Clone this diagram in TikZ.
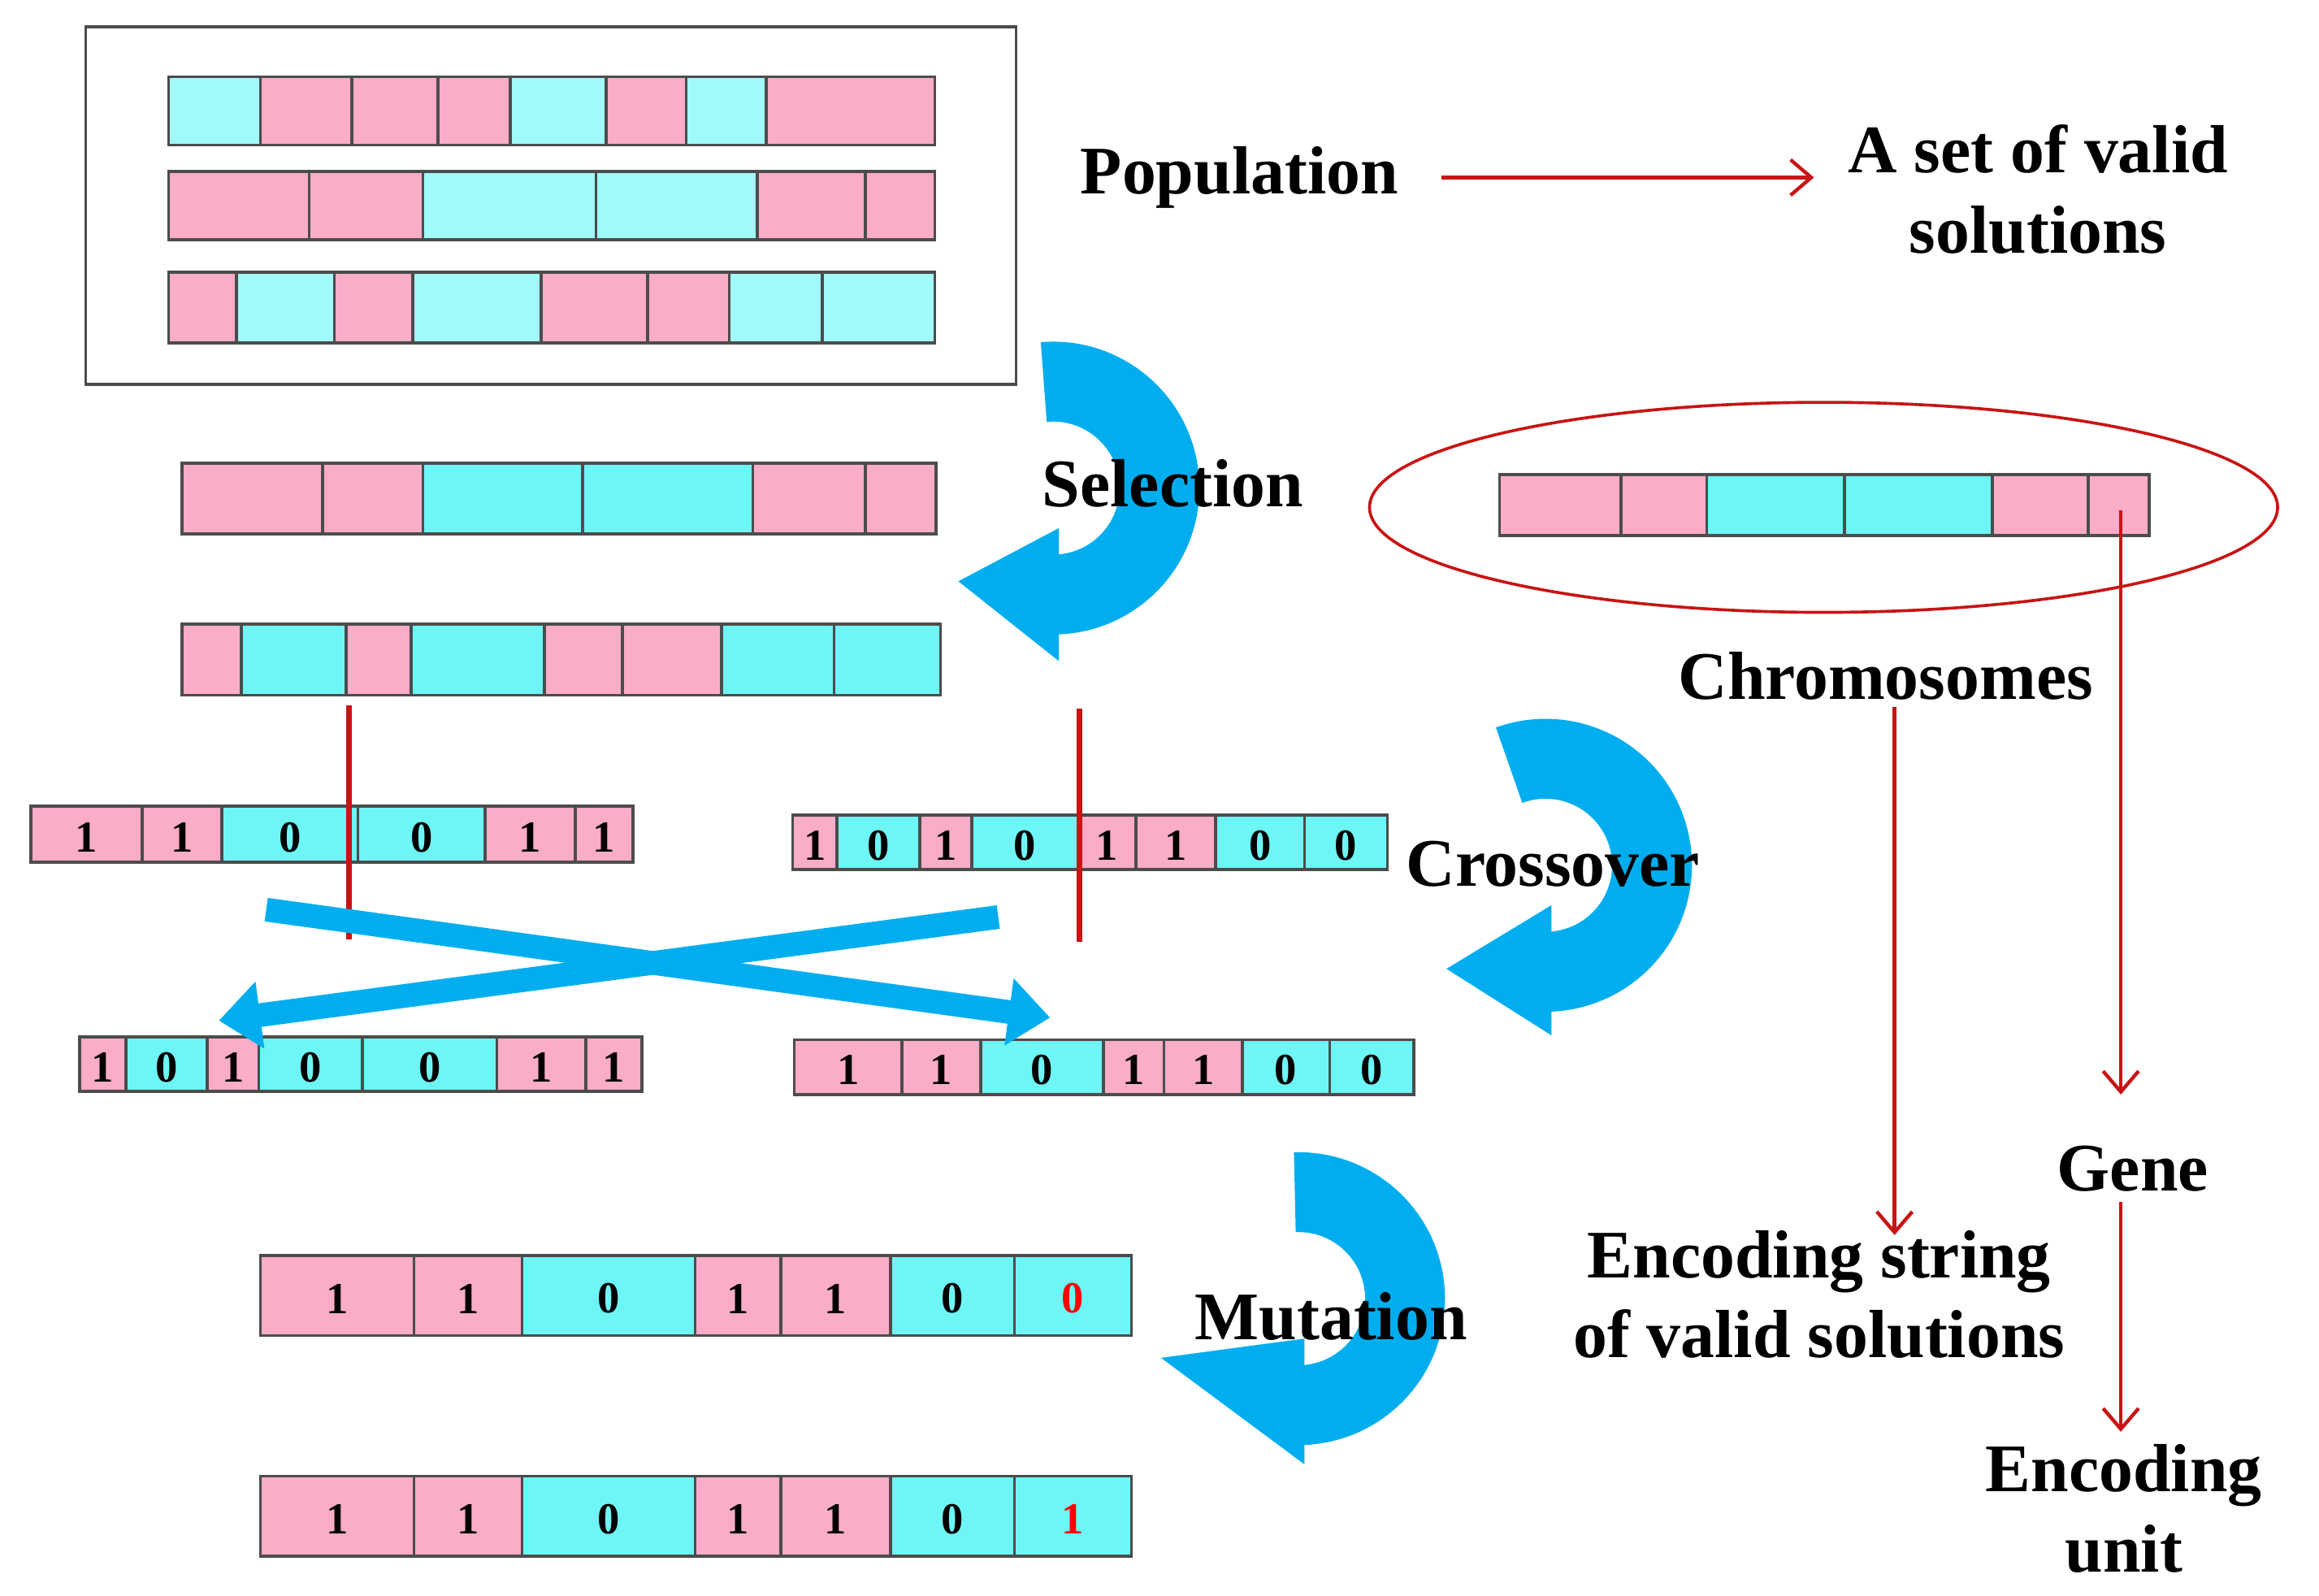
\documentclass[tikz,border=0pt]{standalone}
\usepackage{fontspec}
\setmainfont{Liberation Serif}
\usetikzlibrary{arrows.meta}
\definecolor{pk}{RGB}{250,172,200}
\definecolor{cy}{RGB}{110,245,245}
\definecolor{cl}{RGB}{160,250,250}
\definecolor{bl}{RGB}{0,174,239}
\definecolor{rd}{RGB}{200,20,20}
\newcommand\chrom[3]{\foreach \a/\b/\c/\l in {#3}{\fill[\c] (\a,#1) rectangle (\b,#2);
 \draw[line width=1pt,black!70] (\a,#1) rectangle (\b,#2);
 \node[font=\bfseries\fontsize{15}{15}\selectfont] at ({(\a+\b)/2},{(#1+#2)/2+2}) {\l};}}
\tikzset{lab/.style={font=\bfseries\fontsize{23}{27}\selectfont,align=center},
 rarr/.style={draw=rd,line width=1.2pt,-{Straight Barb[length=7pt,width=12pt]}},
 bigarc/.style={draw=bl,line width=27pt},
 xarr/.style={draw=bl,line width=8pt,-{Triangle[length=14pt,width=22pt]}}}
\begin{document}
\begin{tikzpicture}[x=0.5pt,y=-0.5pt]
\useasboundingbox (0,0) rectangle (1568,1079);
% curved arrows
\draw[bigarc] ([shift={(-95:72)}]712,330) arc[start angle=-95,end angle=92,radius=72];
\fill[bl] (716,357) -- (716,447) -- (648,393) -- cycle;
\draw[bigarc] ([shift={(-110:72)}]1045,585) arc[start angle=-110,end angle=92,radius=72];
\fill[bl] (1049,612) -- (1049,700) -- (978,655) -- cycle;
\draw[bigarc] ([shift={(-92:72)}]878,878) arc[start angle=-92,end angle=92,radius=72];
\fill[bl] (882,905) -- (882,990) -- (785,918) -- cycle;
\draw[line width=1pt,black!70] (58,18) rectangle (687,260);
\chrom{52}{98}{114/176/cl/,176/238/pk/,238/296/pk/,296/345/pk/,345/410/cl/,410/464/pk/,464/518/cl/,518/632/pk/}
\chrom{116}{162}{114/209/pk/,209/286/pk/,286/403/cl/,403/512/cl/,512/585/pk/,585/632/pk/}
\chrom{184}{232}{114/160/pk/,160/226/cl/,226/279/pk/,279/366/cl/,366/438/pk/,438/493/pk/,493/556/cl/,556/632/cl/}
\chrom{313}{361}{123/218/pk/,218/286/pk/,286/394/cy/,394/509/cy/,509/585/pk/,585/633/pk/}
\chrom{422}{470}{123/163/pk/,163/234/cy/,234/278/pk/,278/368/cy/,368/421/pk/,421/488/pk/,488/564/cy/,564/636/cy/}
\chrom{545}{583}{21/96/pk/1,96/150/pk/1,150/242/cy/0,242/328/cy/0,328/389/pk/1,389/428/pk/1}
\chrom{551}{588}{536/566/pk/1,566/622/cy/0,622/657/pk/1,657/729/cy/0,729/768/pk/1,768/822/pk/1,822/882/cy/0,882/938/cy/0}
\chrom{701}{738}{54/85/pk/1,85/140/cy/0,140/175/pk/1,175/245/cy/0,245/336/cy/0,336/396/pk/1,396/434/pk/1}
\chrom{703}{740}{537/610/pk/1,610/663/pk/1,663/746/cy/0,746/787/pk/1,787/840/pk/1,840/899/cy/0,899/956/cy/0}
\chrom{849}{903}{176/280/pk/1,280/353/pk/1,353/470/cy/0,470/528/pk/1,528/602/pk/1,602/686/cy/0,686/765/cy/\textcolor{red}{0}}
\chrom{998}{1052}{176/280/pk/1,280/353/pk/1,353/470/cy/0,470/528/pk/1,528/602/pk/1,602/686/cy/0,686/765/cy/\textcolor{red}{1}}
\chrom{321}{362}{1014/1096/pk/,1096/1154/pk/,1154/1247/cy/,1247/1347/cy/,1347/1412/pk/,1412/1453/pk/}
% red cut lines
\coordinate (c1a) at (236,477); \coordinate (c1b) at (236,635);
\coordinate (c2a) at (730,479); \coordinate (c2b) at (730,637);
\draw[rd,line width=2pt] (c1a)--(c1b); \draw[rd,line width=2pt] (c2a)--(c2b);
% crossing arrows
\coordinate (x1) at (180,615); \coordinate (x2) at (710,688);
\coordinate (x3) at (675,620); \coordinate (x4) at (148,690);
\draw[xarr] (x1)--(x2); \draw[xarr] (x3)--(x4);
% labels
\node[lab] (sel) at (793,327) {Selection};
\node[lab] (cro) at (1050,584) {Crossover};
\node[lab] (mut) at (900,890) {Mutation};
\node[lab] (pop) at (838,120) {Population};
\node[lab] (set) at (1378,128) {A set of valid\\solutions};
\draw[rarr] (pop.east)++(22,0) coordinate (pe) (pe) -- ([xshift=-8pt]set.west|-pe);
\draw[draw=rd,line width=1pt] (1233,343) ellipse[x radius=307,y radius=71];
\node[lab] (chr) at (1275,457) {Chromosomes};
\node[lab] (enc) at (1230,875) {Encoding string\\of valid solutions};
\node[lab] (gene) at (1442,790) {Gene};
\node[lab] (unit) at (1436,1020) {Encoding\\unit};
\coordinate (g0) at (1434,345);
\draw[rarr] (1281,478) -- (1281,835);
\draw[rarr] (g0) -- (1434,740);
\draw[rarr] (gene.south-|g0) -- (1434,968);
\end{tikzpicture}
\end{document}
